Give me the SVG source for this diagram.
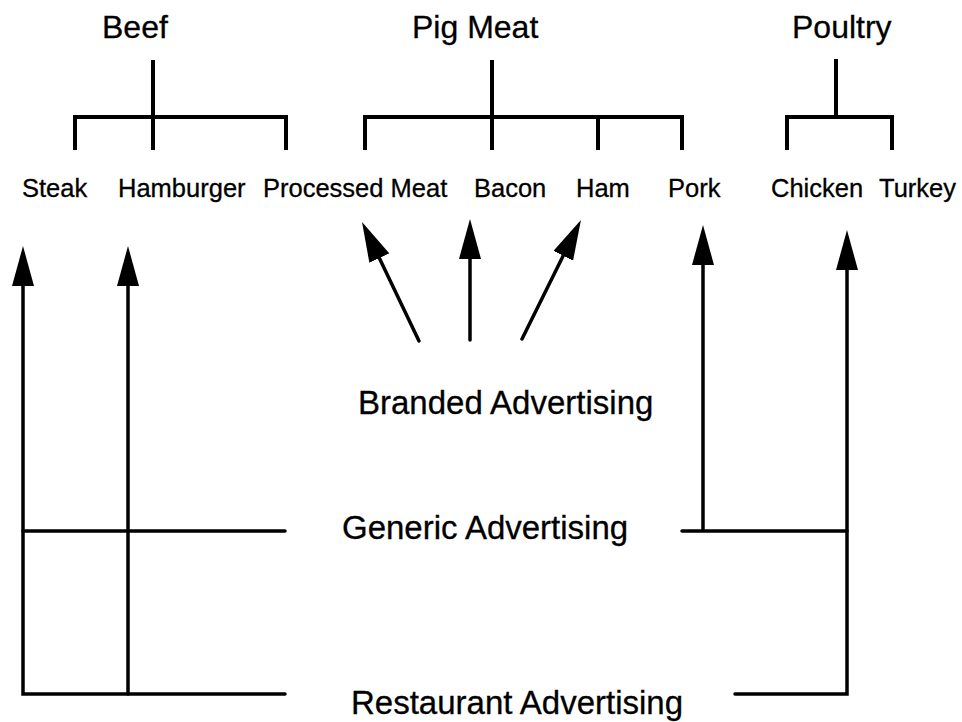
<svg xmlns="http://www.w3.org/2000/svg" width="962" height="722" viewBox="0 0 962 722">
<style>
text{font-family:"Liberation Sans",Arial,Helvetica,sans-serif;fill:#000;stroke:#000;stroke-width:0.3}
.h{font-size:32px}
.l{font-size:25.5px}
.a{font-size:33px}
.tree{fill:none;stroke:#000;stroke-width:4;stroke-linecap:square;stroke-linejoin:miter}
.ln{fill:none;stroke:#000;stroke-width:3.5;stroke-linecap:round;stroke-linejoin:miter}
.arr{marker-end:url(#head)}
</style>
<defs>
<marker id="head" viewBox="0 0 40 22" refX="0" refY="11" markerWidth="40" markerHeight="22" markerUnits="userSpaceOnUse" orient="auto">
<path d="M0,0 L40,11 L0,22 Z" fill="#000"/>
</marker>
</defs>
<rect width="962" height="722" fill="#fff"/>
<g id="beef"><text class="h" x="102" y="38">Beef</text></g>
<g id="pigmeat"><text class="h" x="412" y="38">Pig Meat</text></g>
<g id="poultry"><text class="h" x="792" y="38">Poultry</text></g>
<g id="steak"><text class="l" x="22" y="197">Steak</text></g>
<g id="hamburger"><text class="l" x="118" y="197">Hamburger</text></g>
<g id="processed"><text class="l" x="263" y="197">Processed Meat</text></g>
<g id="bacon"><text class="l" x="474" y="197">Bacon</text></g>
<g id="ham"><text class="l" x="576" y="197">Ham</text></g>
<g id="pork"><text class="l" x="668" y="197">Pork</text></g>
<g id="chicken"><text class="l" x="771" y="197">Chicken</text></g>
<g id="turkey"><text class="l" x="879" y="197">Turkey</text></g>
<g id="branded"><text class="a" x="358" y="414">Branded Advertising</text></g>
<g id="generic"><text class="a" x="342" y="539">Generic Advertising</text></g>
<g id="restaurant"><text class="a" x="351" y="714">Restaurant Advertising</text></g>
<g id="connectors">
<path class="tree" d="M153,62 V148 M75,148 V117 H286 V148"/>
<path class="tree" d="M492,62 V148 M365,148 V117 H682 V148 M598,117 V148"/>
<path class="tree" d="M836,61 V117 M787,148 V117 H892 V148"/>
<path class="ln arr" d="M419,341 L379.3,258.1"/>
<path class="ln arr" d="M470,340 L470,259"/>
<path class="ln arr" d="M522,339 L563.2,255.8"/>
<path class="ln arr" d="M285,694 H23 V286"/>
<path class="ln arr" d="M128,694 V286"/>
<path class="ln" d="M23,531 H285"/>
<path class="ln arr" d="M735,694 H847 V270"/>
<path class="ln" d="M682,531 H847"/>
<path class="ln arr" d="M703,529 V265"/>
</g>
</svg>
